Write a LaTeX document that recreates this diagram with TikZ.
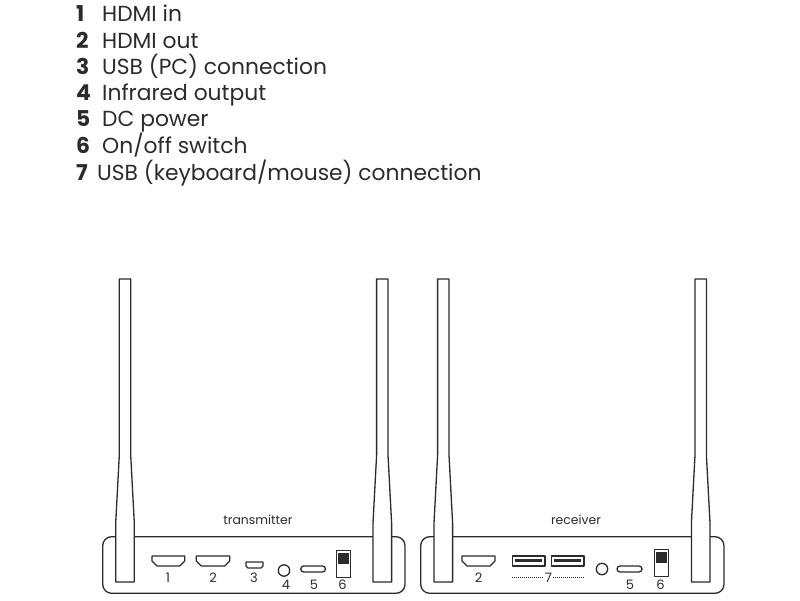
\documentclass[tikz,border=0pt]{standalone}
\usepackage{fontspec}
\setmainfont{Poppins}
\usepackage{tikz}
\definecolor{inkdark}{HTML}{2B2B2B}
\newcommand{\antenna}[1]{%
    \draw[part, fill=white] (#1-11.4,279) -- (#1+0,279) -- (#1+0,455)
        -- (#1+3.6,523) -- (#1+3.6,582) -- (#1-15,582) -- (#1-15,523)
        -- (#1-11.4,455) -- cycle;}
\newcommand{\hdmiport}[3]{%
    \draw[part] (#1,#3) -- (#2,#3) -- (#2,#3+5) -- (#2-5,#3+10)
        -- (#1+5,#3+10) -- (#1,#3+5) -- cycle;}
\newcommand{\switchport}[2]{%
    \draw[part] (#1,#2) rectangle (#1+14.2,#2+26.8);
    \fill[inkdark] (#1+1.8,#2+2.2) rectangle (#1+12.2,#2+13);}
\newcommand{\usbport}[2]{%
    \draw[part] (#1,#2) rectangle (#1+32.6,#2+10);
    \fill[inkdark] (#1+2.6,#2+3) rectangle (#1+30,#2+6);}
\begin{document}
\begin{tikzpicture}[x=1pt, y=-1pt,
    every node/.style={text=inkdark, inner sep=0pt},
    part/.style={draw=inkdark, line width=1.3pt, line join=round},
    shell/.style={draw=inkdark, line width=1.3pt, rounded corners=9pt},
    slot/.style={draw=inkdark, line width=1.3pt, rounded corners=3pt},
    listnum/.style={font=\fontsize{21.8}{25}\selectfont\bfseries, anchor=base west},
    listtxt/.style={font=\fontsize{21.8}{25}\selectfont, anchor=base west},
    portnum/.style={font=\fontsize{13}{15}\selectfont},
    devname/.style={font=\fontsize{12.4}{14}\selectfont}
]
\useasboundingbox (0,0) rectangle (800,600);
% list
\node[listnum] (n1) at (76,21.7) {1};
\node[listtxt] (t1) at (102,21.7) {HDMI in};
\node[listnum] (n2) at (76,48) {2};
\node[listtxt] (t2) at (102,48) {HDMI out};
\node[listnum] (n3) at (76,74) {3};
\node[listtxt] (t3) at (102,74) {USB (PC) connection};
\node[listnum] (n4) at (76,100.7) {4};
\node[listtxt] (t4) at (102,100.7) {Infrared output};
\node[listnum] (n5) at (76,126.7) {5};
\node[listtxt] (t5) at (102,126.7) {DC power};
\node[listnum] (n6) at (76,153) {6};
\node[listtxt] (t6) at (102,153) {On/off switch};
\node[listnum] (n7) at (76,180) {7};
\node[listtxt] (t7) at (97,180) {USB (keyboard/mouse) connection};
% transmitter
\draw[shell] (102.7,536.7) rectangle (405,593.3);
\antenna{130.7}
\antenna{388}
\node[devname] (txname) at (258,520) {transmitter};
\hdmiport{152}{184.7}{556}
\hdmiport{196.3}{229.7}{556}
\draw[part] (246,562) -- (263,562) -- (263,566) -- (261,568) -- (248,568)
    -- (246,566) -- cycle;
\draw[part] (284,570.5) circle (5.7);
\draw[slot] (300.7,566) rectangle (325.5,572);
\switchport{336.5}{550.7}
\node[portnum] (tx1) at (168,577.5) {1};
\node[portnum] (tx2) at (213,577.5) {2};
\node[portnum] (tx3) at (254,577.5) {3};
\node[portnum] (tx4) at (286,585) {4};
\node[portnum] (tx5) at (314,585) {5};
\node[portnum] (tx6) at (342.5,585) {6};
% receiver
\draw[shell] (420.7,536.7) rectangle (724,593.3);
\antenna{449}
\antenna{706.4}
\node[devname] (rxname) at (576,520) {receiver};
\hdmiport{462}{495}{556}
\usbport{512.3}{556}
\usbport{551.3}{556}
\draw[part] (602,569) circle (5.7);
\draw[slot] (617,566) rectangle (642,572);
\switchport{654.3}{549.7}
\node[portnum] (rx2) at (478.6,577.5) {2};
\node[portnum] (rx7) at (548.5,577.5) {7};
\node[portnum] (rx5) at (630,585) {5};
\node[portnum] (rx6) at (660.5,585) {6};
\draw[inkdark, line width=0.8pt, dash pattern=on 1pt off 1pt, shorten >=1pt]
    (512.3,577.5) -- (rx7.west);
\draw[inkdark, line width=0.8pt, dash pattern=on 1pt off 1pt, shorten <=1pt]
    (rx7.east) -- (584,577.5);
\end{tikzpicture}
\end{document}
